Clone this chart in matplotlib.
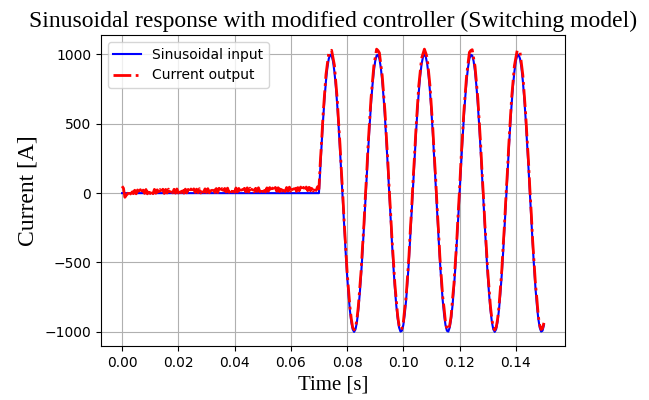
import matplotlib
matplotlib.use('Agg')
import matplotlib.pyplot as plt
import numpy as np

# sample step of the logged signals
step = 0.0005
t_start = 0.07

# input current (0 before 0.07 s, then sinusoid)
input_pre = [0]
input_sine = [
    0, 187, 368, 536, 685, 809, 905, 969, 998, 992, 951, 876, 771, 637, 482, 309, 125, -63,
    -249, -426, -588, -729, -844, -930, -982, -1000, -982, -930, -844, -729, -588, -426, -249,
    -63, 125, 309, 482, 637, 771, 876, 951, 992, 998, 969, 905, 809, 685, 536, 368, 187, 0,
    -187, -368, -536, -685, -809, -905, -969, -998, -992, -951, -876, -771, -637, -482, -309,
    -125, 63, 249, 426, 588, 729, 844, 930, 982, 1000, 982, 930, 844, 729, 588, 426, 249, 63,
    -125, -309, -482, -637, -771, -876, -951, -992, -998, -969, -905, -809, -685, -536, -368,
    -187, 0,
    187, 368, 536, 685, 809, 905, 969, 998, 992, 951, 876, 771, 637, 482, 309, 125, -63,
    -249, -426, -588, -729, -844, -930, -982, -1000, -982, -930, -844, -729, -588, -426, -249,
    -63, 125, 309, 482, 637, 771, 876, 951, 992, 998, 969, 905, 809, 685, 536, 368, 187, 0,
    -187, -368, -536, -685, -809, -905, -969, -998, -992, -951,
]

# measured output current (switching ripple before the sine starts)
output_pre = [
    50, 35, -30, -15, -5, 22, -6, 24, -4, 21,
    -5, 23, -3, 25, -6, 22, -2, 26, -5, 24,
    -3, 25, -4, 27, -1, 24, -3, 26, 0, 28,
    -2, 27, 1, 29, -1, 26, 2, 28, 0, 30,
    1, 28, 3, 31, 0, 29, 2, 27, 4, 30,
    2, 31, 5, 29, 3, 32, 1, 30, 6, 31,
    4, 32, 3, 34, 6, 31, 5, 33, 4, 35,
    7, 33, 5, 34, 8, 36, 6, 32, 9, 35,
    7, 37, 8, 34, 10, 36, 6, 35, 9, 38,
    8, 36, 11, 38, 9, 35, 12, 39, 10, 37,
    11, 39, 9, 38, 13, 40, 10, 37, 12, 41,
    13, 39, 11, 42, 14, 40, 12, 41, 15, 43,
    14, 41, 16, 43, 13, 40, 17, 44, 15, 42,
    16, 44, 18, 42, 17, 45, 15, 43, 19, 46,
]
output_sine = [
    30, 229, 392, 574, 712, 855, 935, 1011, 1022, 1030, 978, 922, 801, 679, 506, 347, 152, -17,
    -219, -384, -564, -691, -817, -905, -968, -985, -970, -910, -817, -683, -558, -384, -225,
    -25, 152, 355, 512, 679, 795, 914, 978, 1038, 1028, 1011, 929, 847, 712, 582, 398, 229, 24,
    -149, -341, -490, -655, -767, -885, -955, -984, -976, -932, -834, -747, -599, -455, -263,
    -95, 105, 273, 464, 615, 775, 874, 972, 1006, 1038, 1009, 976, 874, 771, 612, 464, 276, 109,
    -95, -267, -458, -599, -744, -830, -932, -978, -985, -952, -888, -763, -655, -494, -344,
    -149, 27,
    233, 398, 578, 709, 847, 932, 1015, 1028, 1034, 975, 914, 798, 683, 512, 351, 149, -25,
    -222, -380, -558, -687, -820, -908, -970, -986, -968, -912, -820, -691, -561, -380, -219,
    -21, 149, 347, 509, 683, 801, 918, 975, 1030, 1025, 1015, 935, 851, 709, 574, 395, 233, 30,
    -145, -344, -498, -658, -763, -887, -953, -983, -975, -935,
]

t_sine = t_start + step * np.arange(len(input_sine))
t_in = np.concatenate([[0.0], t_sine])
y_in = input_pre + input_sine
t_out = np.concatenate([step * np.arange(len(output_pre)), t_sine])
y_out = output_pre + output_sine

fig = plt.figure(figsize=(6.49, 4.0), dpi=100)
ax = fig.add_axes([0.1556, 0.135, 0.715, 0.7775])
ax.plot(t_in, y_in, color='blue', lw=1.5, label='Sinusoidal input')
ax.plot(t_out, y_out, color='red', ls='-.', lw=2, label='Current output')
ax.grid(True)
ax.set_title('Sinusoidal response with modified controller (Switching model)',
             family='Liberation Serif', fontsize=17)
ax.set_xlabel('Time [s]', family='Liberation Serif', fontsize=15)
ax.set_ylabel('Current [A]', family='Liberation Serif', fontsize=17)
ax.set_yticks([-1000, -500, 0, 500, 1000])
ax.legend(loc='upper left')
fig.savefig('out.png', dpi=100)
